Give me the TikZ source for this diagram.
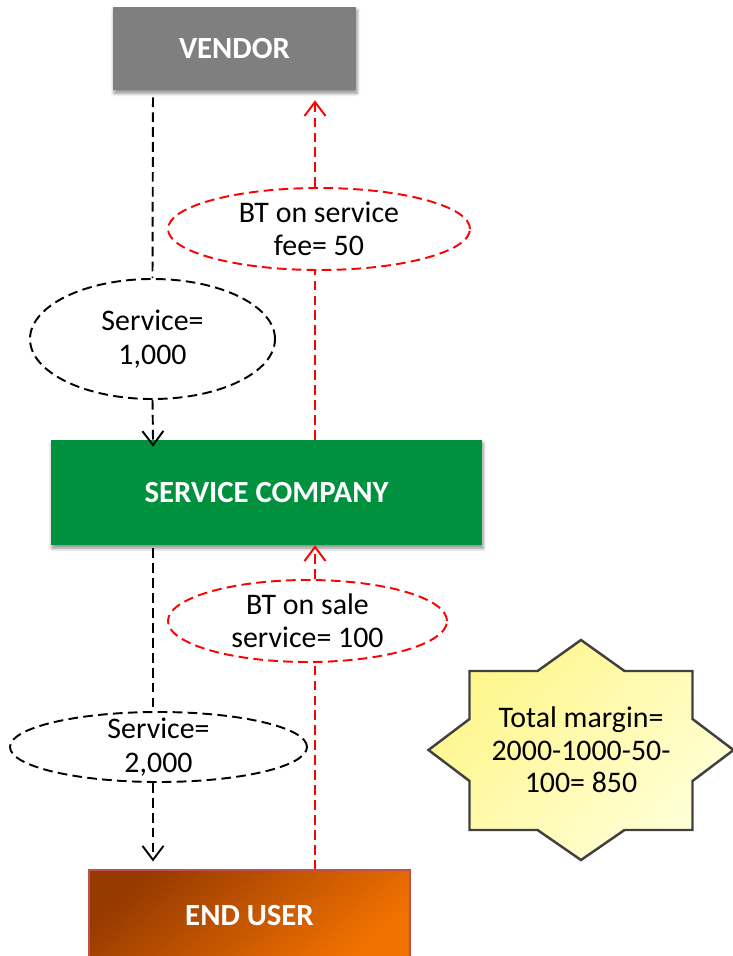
\documentclass[tikz,border=0pt]{standalone}
\usepackage{fontspec}
\setmainfont{Carlito}
\usetikzlibrary{arrows.meta,positioning,calc,shapes.geometric,shadows.blur}
\definecolor{ink}      {HTML}{000000}
\definecolor{vendorbg} {HTML}{7F7F7F}
\definecolor{companybg}{HTML}{00913F}
\definecolor{userdark} {HTML}{963A00}
\definecolor{userlight}{HTML}{F27200}
\definecolor{userline} {HTML}{C0504D}
\definecolor{tax}      {HTML}{FF0000}
\definecolor{starline} {HTML}{404040}
\definecolor{starhi}   {HTML}{FFF68A}
\definecolor{starlo}   {HTML}{FFFFD8}
\tikzset{
  party/.style    ={draw=none, text=white, align=center, inner sep=0pt,
                    font=\fontsize{17.5}{20}\selectfont\bfseries},
  vbox/.style     ={party, fill=vendorbg,
                    blur shadow={shadow xshift=0.6pt, shadow yshift=-1.8pt,
                                 shadow blur steps=5, shadow opacity=45}},
  cbox/.style     ={vbox, fill=companybg},
  ubox/.style     ={party, draw=userline, line width=0.6pt,
                    top color=userdark, bottom color=userlight, shading angle=40},
  amount/.style   ={ellipse, draw=ink, fill=white, line width=1.1pt,
                    dash pattern=on 5.5pt off 3pt, align=center,
                    inner xsep=0pt, inner ysep=-2pt,
                    font=\fontsize{17}{19}\selectfont},
  taxamount/.style={amount, draw=tax},
  goodsline/.style={draw=ink, line width=1.1pt, dash pattern=on 5.5pt off 3pt},
  goodsarr/.style ={goodsline, -{Straight Barb[length=2.8mm,width=4.2mm]}},
  taxline/.style  ={goodsline, draw=tax},
  taxarr/.style   ={goodsarr, draw=tax},
  total/.style    ={align=center, inner sep=0pt, font=\fontsize{17}{18.6}\selectfont},
}

\begin{document}
\begin{tikzpicture}[x=1cm,y=1cm]
  \useasboundingbox (0,0) rectangle (14.64,-19.12);

  % the three parties
  \node[vbox,minimum width=4.86cm,minimum height=1.66cm] (vendor) at (4.69,-0.97) {VENDOR};
  \node[cbox,minimum width=8.62cm,minimum height=2.1cm] (company) at (5.33,-9.85) {SERVICE COMPANY};
  \node[ubox,minimum width=6.42cm,minimum height=1.84cm] (user) at (4.99,-18.32) {END USER};

  % amounts on the flows
  \node[amount,minimum width=4.9cm,minimum height=2.4cm] (svc1) at (3.05,-6.78) {Service=\\1,000};
  \node[amount,minimum width=5.94cm,minimum height=1.4cm,inner ysep=-4pt] (svc2) at (3.17,-14.94) {Service=\\2,000};
  \node[taxamount,minimum width=6.04cm,minimum height=1.64cm] (fee) at (6.38,-4.58) {BT on service\\fee= 50};
  \node[taxamount,minimum width=5.58cm,minimum height=1.64cm] (sale) at (6.15,-12.42) {BT on sale\\service= 100};

  \coordinate (goodsx) at (3.06,0);
  \coordinate (taxx) at (6.3,0);

  % service going down
  \draw[goodsline,shorten <=0.14cm] (vendor.south -| goodsx) -- (svc1.north);
  \draw[goodsarr,shorten >=-0.14cm] (svc1.south) -- (company.north -| goodsx);
  \draw[goodsline,shorten <=0.06cm] (company.south -| goodsx) -- (goodsx |- svc2.north);
  \draw[goodsarr,shorten >=0.16cm] (goodsx |- svc2.south) -- (user.north -| goodsx);

  % tax going up
  \draw[taxline] (company.north -| taxx) -- (taxx |- fee.south);
  \draw[taxarr,shorten >=0.2cm] (taxx |- fee.north) -- (vendor.south -| taxx);
  \draw[taxline] (user.north -| taxx) -- (taxx |- sale.south);
  \draw[taxarr] (taxx |- sale.north) -- (company.south -| taxx);

  % margin star: rectangle and diamond overlaid
  \begin{scope}[shift={(11.62,-15)}]
    \filldraw[draw=starline, line width=1.4pt, line join=miter,
              top color=starhi, bottom color=starlo, shading angle=45]
      (0,2.2) -- (0.87,1.58) -- (2.23,1.58) -- (2.23,0.62) -- (3.05,0)
      -- (2.23,-0.62) -- (2.23,-1.6) -- (0.87,-1.6) -- (0,-2.2)
      -- (-0.87,-1.6) -- (-2.23,-1.6) -- (-2.23,-0.62) -- (-3.05,0)
      -- (-2.23,0.62) -- (-2.23,1.58) -- (-0.87,1.58) -- cycle;
    \node[total] (margin) at (0,0) {Total margin=\\2000-1000-50-\\100= 850};
  \end{scope}
\end{tikzpicture}
\end{document}
